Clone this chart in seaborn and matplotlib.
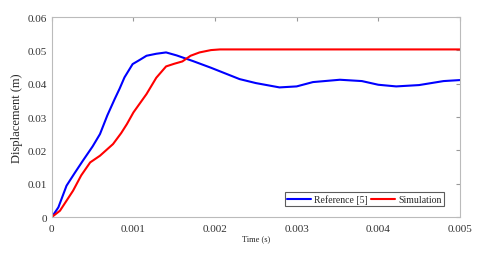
import numpy as np
import pandas as pd
import matplotlib
matplotlib.use("Agg")
import matplotlib.pyplot as plt
import seaborn as sns

# values
ref_t = [0, 0.00008, 0.00018, 0.00028, 0.00038, 0.00050, 0.00059, 0.00068, 0.00077, 0.00083,
         0.00089, 0.00099, 0.00108, 0.00116, 0.00128, 0.0014, 0.00153, 0.00173, 0.00195, 0.0023,
         0.0025, 0.00279, 0.003, 0.0032, 0.00353, 0.0038, 0.004, 0.00422, 0.0045, 0.0048, 0.005]
ref_y = [0, 0.0029, 0.0094, 0.0132, 0.0169, 0.0212, 0.0249, 0.0305, 0.0354, 0.0385,
         0.0419, 0.0459, 0.0472, 0.0484, 0.049, 0.0494, 0.0485, 0.0468, 0.0448, 0.0414,
         0.0402, 0.0389, 0.0392, 0.0405, 0.0412, 0.0408, 0.0397, 0.0392, 0.0396, 0.0408, 0.0411]

sim_t = [0, 0.0001, 0.00026, 0.00036, 0.00047, 0.00059, 0.00075, 0.00085, 0.00092, 0.001,
         0.00116, 0.00128, 0.0014, 0.0015, 0.0016, 0.0017, 0.00181, 0.00195, 0.00206, 0.0025,
         0.003, 0.0035, 0.004, 0.0045, 0.005]
sim_y = [0, 0.0019, 0.0079, 0.0125, 0.0164, 0.0184, 0.0219, 0.0252, 0.0279, 0.0314,
         0.0369, 0.0418, 0.0452, 0.046, 0.0467, 0.0484, 0.0494, 0.0501, 0.0503, 0.0503,
         0.0503, 0.0503, 0.0503, 0.0503, 0.0503]

df = pd.concat([
    pd.DataFrame({"t": ref_t, "y": ref_y, "series": "Reference [5]"}),
    pd.DataFrame({"t": sim_t, "y": sim_y, "series": "Simulation"}),
])

sns.set_style("white")
plt.rcParams["font.family"] = ["Liberation Serif", "DejaVu Serif"]

fig = plt.figure(figsize=(4.8, 2.55), dpi=100)
ax = fig.add_axes([0.108, 0.145, 0.85, 0.784])

sns.lineplot(data=df, x="t", y="y", hue="series", palette=["#0000ff", "#ff0000"],
             linewidth=1.5, ax=ax, estimator=None, sort=False)

ax.set_xlim(0, 0.005)
ax.set_ylim(0, 0.06)
ax.set_xticks([0, 0.001, 0.002, 0.003, 0.004, 0.005])
ax.set_xticklabels(["0", "0.001", "0.002", "0.003", "0.004", "0.005"])
ax.set_yticks([0, 0.01, 0.02, 0.03, 0.04, 0.05, 0.06])
ax.set_yticklabels(["0", "0.01", "0.02", "0.03", "0.04", "0.05", "0.06"])
ax.tick_params(direction="in", length=3, labelsize=8, top=True, right=True,
               color="#999999", colors="#333333")
ax.tick_params(axis="x", pad=5)
for s in ax.spines.values():
    s.set_color("#bbbbbb")
    s.set_linewidth(0.8)

ax.set_xlabel("Time (s)", fontsize=6, labelpad=1)
ax.set_ylabel("Displacement (m)", fontsize=9, labelpad=3)

leg = ax.legend(loc="lower right", ncol=2, fontsize=7, frameon=True, fancybox=False,
                handlelength=2.5, handletextpad=0.3, columnspacing=0.3,
                borderpad=0.2, borderaxespad=0, bbox_to_anchor=(0.96, 0.055))
leg.get_frame().set_edgecolor("#333333")
leg.get_frame().set_linewidth(0.8)

plt.savefig("out.png", dpi=100)
plt.close()
